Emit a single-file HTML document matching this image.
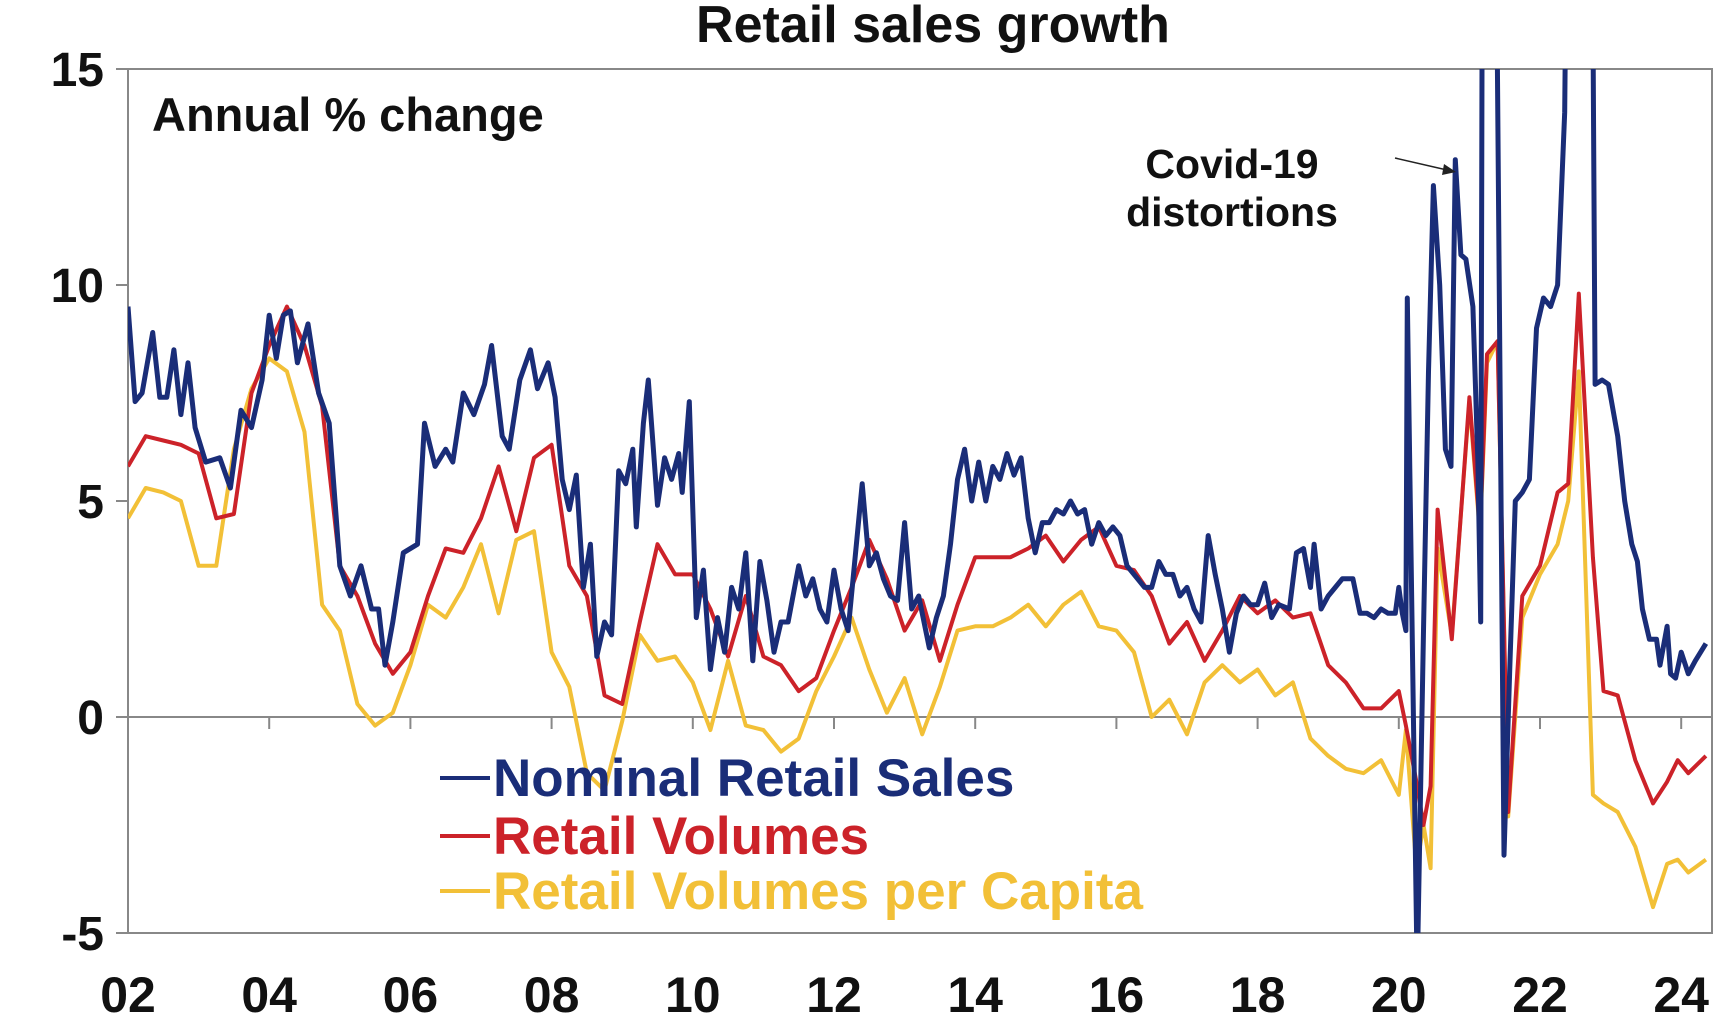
<!DOCTYPE html>
<html><head><meta charset="utf-8"><style>
body{margin:0;background:#fff;width:1726px;height:1027px;overflow:hidden}
svg{display:block}
text{font-family:"Liberation Sans",Arial,sans-serif;font-weight:bold;fill:#111}
</style></head><body>
<svg id="chart" width="1726" height="1027"></svg>
<script>
const nomDates=[2002.0,2002.1,2002.2,2002.35,2002.45,2002.55,2002.65,2002.75,2002.85,2002.95,2003.1,2003.3,2003.45,2003.6,2003.75,2003.9,2004.0,2004.1,2004.2,2004.3,2004.4,2004.55,2004.7,2004.85,2005.0,2005.15,2005.3,2005.45,2005.55,2005.64,2005.75,2005.9,2006.1,2006.2,2006.35,2006.5,2006.6,2006.75,2006.9,2007.05,2007.15,2007.3,2007.4,2007.55,2007.7,2007.8,2007.95,2008.05,2008.15,2008.25,2008.35,2008.45,2008.55,2008.64,2008.75,2008.85,2008.95,2009.05,2009.15,2009.2,2009.3,2009.37,2009.5,2009.6,2009.7,2009.8,2009.85,2009.95,2010.05,2010.15,2010.25,2010.35,2010.45,2010.55,2010.65,2010.75,2010.85,2010.95,2011.05,2011.15,2011.25,2011.35,2011.5,2011.6,2011.7,2011.8,2011.9,2012.0,2012.1,2012.2,2012.4,2012.5,2012.6,2012.7,2012.8,2012.9,2013.0,2013.1,2013.2,2013.35,2013.45,2013.55,2013.65,2013.75,2013.85,2013.95,2014.05,2014.15,2014.25,2014.35,2014.45,2014.55,2014.65,2014.75,2014.85,2014.95,2015.05,2015.15,2015.25,2015.35,2015.45,2015.55,2015.65,2015.75,2015.85,2015.95,2016.05,2016.15,2016.3,2016.4,2016.5,2016.6,2016.7,2016.8,2016.9,2017.0,2017.1,2017.2,2017.3,2017.4,2017.5,2017.6,2017.7,2017.8,2017.9,2018.0,2018.1,2018.2,2018.3,2018.45,2018.55,2018.65,2018.75,2018.8,2018.9,2019.0,2019.1,2019.2,2019.35,2019.45,2019.55,2019.65,2019.75,2019.85,2019.95,2020.0,2020.05,2020.1,2020.12,2020.26,2020.35,2020.42,2020.49,2020.58,2020.66,2020.74,2020.8,2020.88,2020.95,2021.05,2021.12,2021.16,2021.2,2021.32,2021.49,2021.57,2021.65,2021.75,2021.85,2021.95,2022.05,2022.15,2022.25,2022.35,2022.44,2022.7,2022.78,2022.88,2022.97,2023.1,2023.2,2023.3,2023.38,2023.45,2023.55,2023.65,2023.7,2023.8,2023.85,2023.92,2024.0,2024.1,2024.2,2024.35];
const nomValues=[9.5,7.3,7.5,8.9,7.4,7.4,8.5,7.0,8.2,6.7,5.9,6.0,5.3,7.1,6.7,7.8,9.3,8.3,9.3,9.4,8.2,9.1,7.5,6.8,3.5,2.8,3.5,2.5,2.5,1.2,2.2,3.8,4.0,6.8,5.8,6.2,5.9,7.5,7.0,7.7,8.6,6.5,6.2,7.8,8.5,7.6,8.2,7.4,5.5,4.8,5.6,3.0,4.0,1.4,2.2,1.9,5.7,5.4,6.2,4.4,6.8,7.8,4.9,6.0,5.5,6.1,5.2,7.3,2.3,3.4,1.1,2.3,1.5,3.0,2.5,3.8,1.3,3.6,2.7,1.5,2.2,2.2,3.5,2.8,3.2,2.5,2.2,3.4,2.5,2.0,5.4,3.5,3.8,3.2,2.8,2.7,4.5,2.5,2.8,1.6,2.3,2.8,4.0,5.5,6.2,5.0,5.9,5.0,5.8,5.5,6.1,5.6,6.0,4.6,3.8,4.5,4.5,4.8,4.7,5.0,4.7,4.8,4.0,4.5,4.2,4.4,4.2,3.5,3.2,3.0,3.0,3.6,3.3,3.3,2.8,3.0,2.5,2.2,4.2,3.3,2.5,1.5,2.4,2.8,2.6,2.6,3.1,2.3,2.6,2.5,3.8,3.9,3.0,4.0,2.5,2.8,3.0,3.2,3.2,2.4,2.4,2.3,2.5,2.4,2.4,3.0,2.4,2.0,9.7,-6,2.0,8.0,12.3,10.0,6.2,5.8,12.9,10.7,10.6,9.5,5.9,2.2,30,30,-3.2,1.0,5.0,5.2,5.5,9.0,9.7,9.5,10.0,14,30,30,7.7,7.8,7.7,6.5,5.0,4.0,3.6,2.5,1.8,1.8,1.2,2.1,1.0,0.9,1.5,1.0,1.3,1.7];
const volDates=[2002.0,2002.25,2002.5,2002.75,2003.0,2003.25,2003.5,2003.75,2004.0,2004.25,2004.5,2004.75,2005.0,2005.25,2005.5,2005.75,2006.0,2006.25,2006.5,2006.75,2007.0,2007.25,2007.5,2007.75,2008.0,2008.25,2008.5,2008.75,2009.0,2009.25,2009.5,2009.75,2010.0,2010.25,2010.5,2010.75,2011.0,2011.25,2011.5,2011.75,2012.0,2012.25,2012.5,2012.75,2013.0,2013.25,2013.5,2013.75,2014.0,2014.25,2014.5,2014.75,2015.0,2015.25,2015.5,2015.75,2016.0,2016.25,2016.5,2016.75,2017.0,2017.25,2017.5,2017.75,2018.0,2018.25,2018.5,2018.75,2019.0,2019.25,2019.5,2019.75,2020.0,2020.1,2020.25,2020.35,2020.45,2020.55,2020.75,2021.0,2021.15,2021.25,2021.4,2021.55,2021.75,2022.0,2022.25,2022.4,2022.55,2022.75,2022.9,2023.1,2023.35,2023.6,2023.8,2023.95,2024.1,2024.35];
const volValues=[5.8,6.5,6.4,6.3,6.1,4.6,4.7,7.5,8.6,9.5,8.6,7.2,3.5,2.8,1.7,1.0,1.5,2.8,3.9,3.8,4.6,5.8,4.3,6.0,6.3,3.5,2.8,0.5,0.3,2.2,4.0,3.3,3.3,2.5,1.4,2.8,1.4,1.2,0.6,0.9,2.0,3.0,4.1,3.2,2.0,2.7,1.3,2.6,3.7,3.7,3.7,3.9,4.2,3.6,4.1,4.4,3.5,3.4,2.8,1.7,2.2,1.3,2.0,2.8,2.4,2.7,2.3,2.4,1.2,0.8,0.2,0.2,0.6,-0.2,-1.5,-2.5,-1.6,4.8,1.8,7.4,4.3,8.4,8.7,-2.2,2.8,3.5,5.2,5.4,9.8,3.7,0.6,0.5,-1.0,-2.0,-1.5,-1.0,-1.3,-0.9];
const capValues=[4.6,5.3,5.2,5.0,3.5,3.5,6.2,7.6,8.3,8.0,6.6,2.6,2.0,0.3,-0.2,0.1,1.2,2.6,2.3,3.0,4.0,2.4,4.1,4.3,1.5,0.7,-1.3,-1.7,-0.1,1.9,1.3,1.4,0.8,-0.3,1.3,-0.2,-0.3,-0.8,-0.5,0.6,1.4,2.3,1.1,0.1,0.9,-0.4,0.7,2.0,2.1,2.1,2.3,2.6,2.1,2.6,2.9,2.1,2.0,1.5,0.0,0.4,-0.4,0.8,1.2,0.8,1.1,0.5,0.8,-0.5,-0.9,-1.2,-1.3,-1.0,-1.8,-0.3,-3.5,-2.5,-3.5,3.9,1.9,7.3,4.2,8.2,8.7,-2.3,2.3,3.3,4.0,5.0,8.0,-1.8,-2.0,-2.2,-3.0,-4.4,-3.4,-3.3,-3.6,-3.3];
const yTicks=[15,10,5,0,-5];
const xTickYears=[2002,2004,2006,2008,2010,2012,2014,2016,2018,2020,2022,2024];
const xTickLabels=["02","04","06","08","10","12","14","16","18","20","22","24"];
const legendLabels=["Nominal Retail Sales","Retail Volumes","Retail Volumes per Capita"];

const L=128,R=1712,T=69,B=933;
const xs=y=>L+(y-2002)*70.6;
const ys=v=>B-(v+5)*43.2;
const svg=document.getElementById('chart');
const NS='http://www.w3.org/2000/svg';
function mk(tag,attrs,parent){const e=document.createElementNS(NS,tag);for(const k in attrs)e.setAttribute(k,attrs[k]);(parent||svg).appendChild(e);return e;}

const defs=mk('defs',{});
const cp=mk('clipPath',{id:'plotclip'},defs);
mk('rect',{x:L,y:T,width:R-L,height:B-T},cp);

const title=mk('text',{x:933,y:42,'text-anchor':'middle','font-size':52});
title.textContent='Retail sales growth';



const frame=mk('rect',{x:L,y:T,width:R-L,height:B-T,fill:'none',stroke:'#888','stroke-width':2});


const zl=mk('line',{x1:L,x2:R,y1:ys(0),y2:ys(0),stroke:'#888','stroke-width':2});



yTicks.forEach(v=>{
  const t=mk('line',{x1:L-12,x2:L,y1:ys(v),y2:ys(v),stroke:'#888','stroke-width':2});
  
  
  const lb=mk('text',{x:104,y:ys(v)+17,'text-anchor':'end','font-size':48});
  lb.textContent=String(v);
  
  
});
xTickYears.forEach((yr,i)=>{
  const t=mk('line',{x1:xs(yr),x2:xs(yr),y1:ys(0),y2:ys(0)+12,stroke:'#888','stroke-width':2});
  
  
  const lb=mk('text',{x:xs(yr),y:1012,'text-anchor':'middle','font-size':50});
  lb.textContent=xTickLabels[i];
  
  
});

const g=mk('g',{'clip-path':'url(#plotclip)'});


function line(dates,vals,color,w,name){
  const d=dates.map((t,i)=>(i?'L':'M')+xs(t).toFixed(1)+','+ys(vals[i]).toFixed(1)).join('');
  const p=mk('path',{d:d,fill:'none',stroke:color,'stroke-width':w,'stroke-linejoin':'round'},g);
  
  
}
line(volDates,capValues,'#f2c037',4,'volumes-per-capita-line');
line(volDates,volValues,'#cc2229',4,'retail-volumes-line');
line(nomDates,nomValues,'#1a2d78',5,'nominal-retail-sales-line');

const ann=mk('text',{x:1232,y:178,'text-anchor':'middle','font-size':41});
ann.textContent='Covid-19';


const ann2=mk('text',{x:1232,y:226,'text-anchor':'middle','font-size':41});
ann2.textContent='distortions';


const arr=mk('line',{x1:1395,y1:158,x2:1447,y2:170,stroke:'#222','stroke-width':1.5});


const ah=mk('polygon',{points:'1456,172 1444,164 1442,175',fill:'#222'});



const sub=mk('text',{x:152,y:131,'font-size':47});
sub.textContent='Annual % change';



const colors=['#1a2d78','#cc2229','#f2c037'];
const rowsY=[778,836,891];
legendLabels.forEach((lab,i)=>{
  const ln=mk('line',{x1:440,x2:490,y1:rowsY[i],y2:rowsY[i],stroke:colors[i],'stroke-width':4});
  
  
  const tx=mk('text',{x:493,y:rowsY[i]+18,'font-size':53,style:'fill:'+colors[i]});
  tx.textContent=lab;
  
  
});
</script>
</body></html>
